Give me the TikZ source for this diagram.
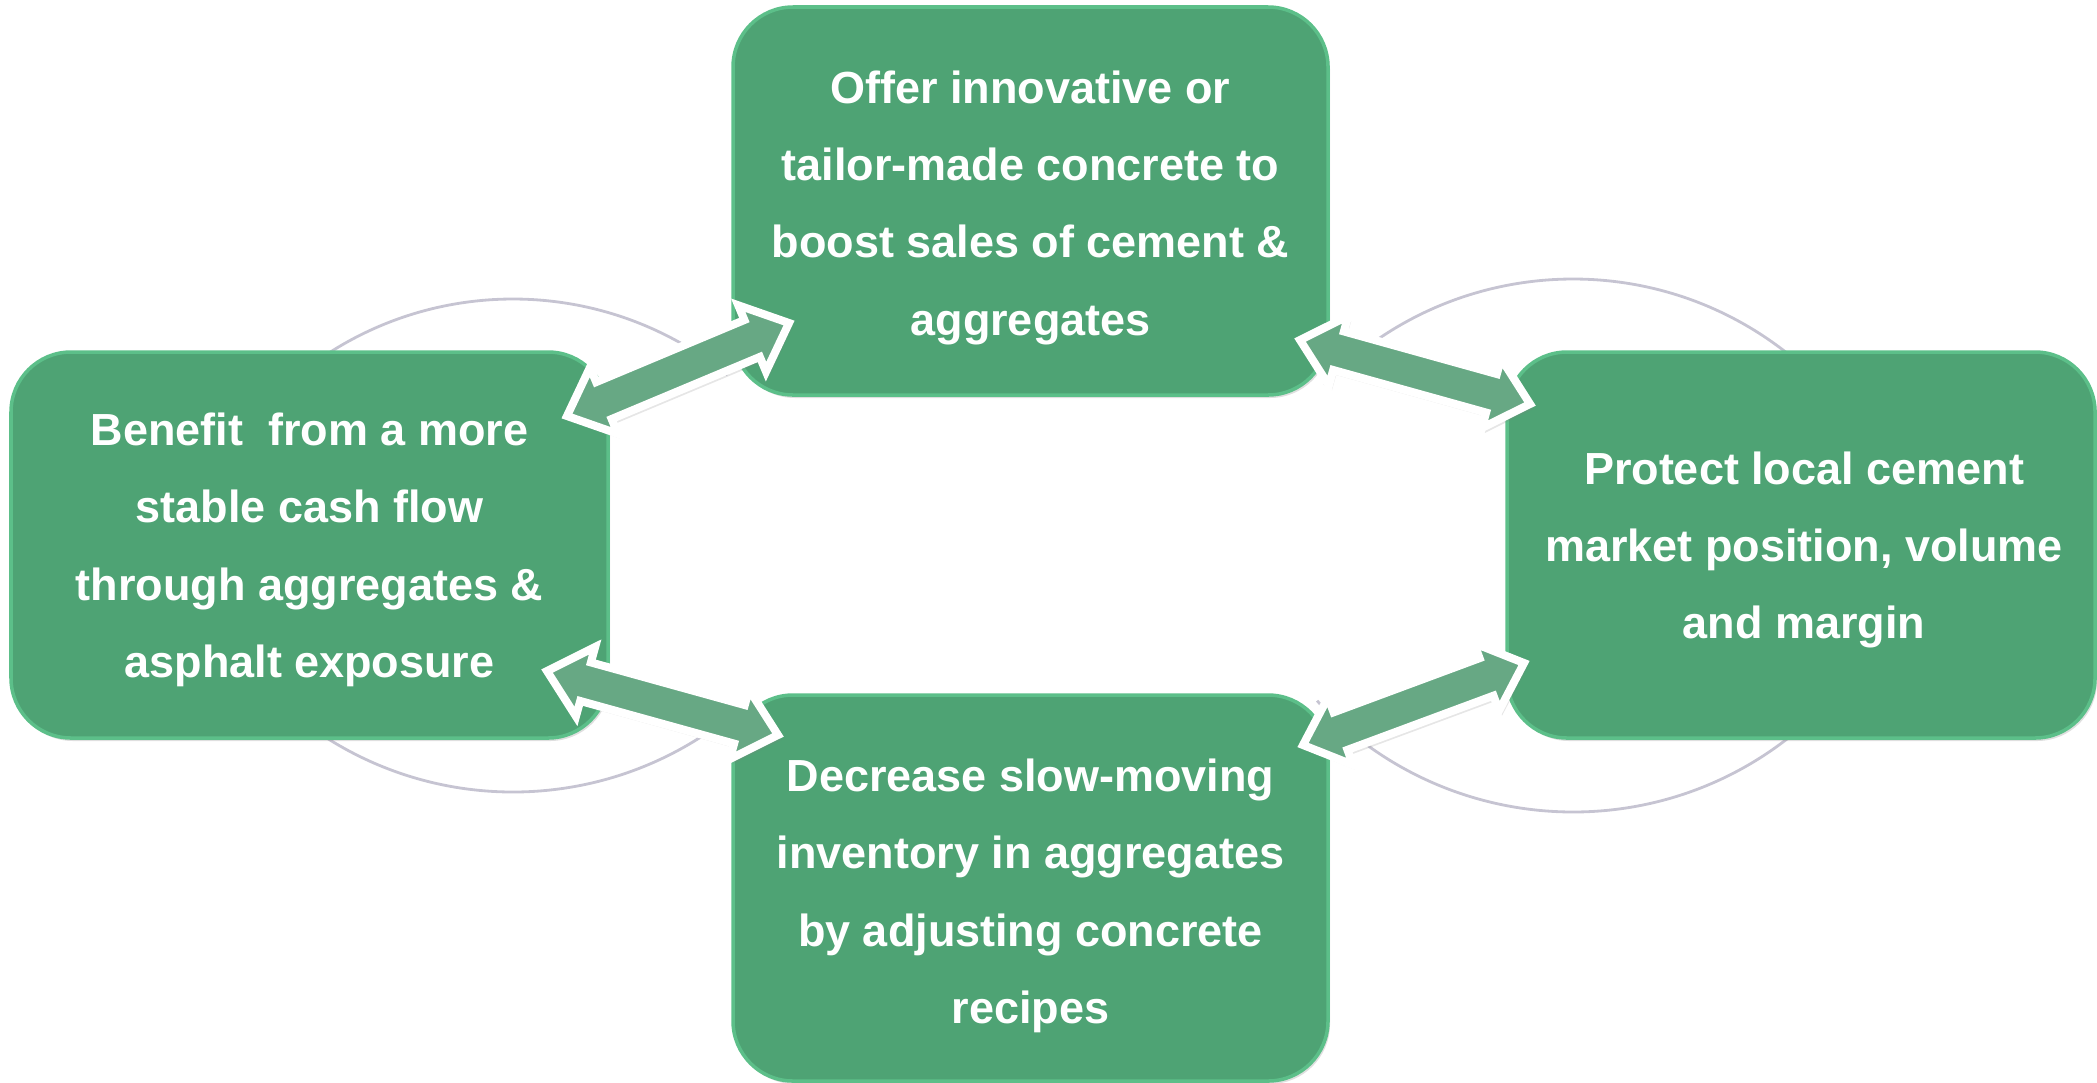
\documentclass[tikz,border=0pt]{standalone}
\usepackage{fontspec}
\setmainfont{Liberation Sans}
\usetikzlibrary{calc,shadows}
\definecolor{boxfill}{HTML}{4EA374}
\definecolor{boxedge}{HTML}{5CBF89}
\definecolor{arrfill}{HTML}{67A884}
\definecolor{arcgray}{HTML}{C6C4D2}
\tikzset{
  box/.style={rectangle, rounded corners=0.6cm, fill=boxfill, draw=boxedge, line width=1pt, inner sep=0pt,
    drop shadow={shadow xshift=0.02cm, shadow yshift=-0.03cm, opacity=0.25}},
  txt/.style={text=white, font=\bfseries\fontsize{12.8}{22}\selectfont, align=center, inner sep=0pt},
  ring/.style={draw=arcgray, line width=0.8pt},
  blockarrow/.style={fill=arrfill, draw=white, line width=0.08cm, line join=miter,
    drop shadow={shadow xshift=0.03cm, shadow yshift=-0.05cm, opacity=0.2}}
}
\newcommand\dblarrow[2]{%
  \path[blockarrow]
    (#1)
    -- ($($(#1)!0.40cm!(#2)$)!0.36cm!90:(#2)$)
    -- ($($(#1)!0.40cm!(#2)$)!0.2cm!90:(#2)$)
    -- ($($(#2)!0.40cm!(#1)$)!0.2cm!-90:(#1)$)
    -- ($($(#2)!0.40cm!(#1)$)!0.36cm!-90:(#1)$)
    -- (#2)
    -- ($($(#2)!0.40cm!(#1)$)!0.36cm!90:(#1)$)
    -- ($($(#2)!0.40cm!(#1)$)!0.2cm!90:(#1)$)
    -- ($($(#1)!0.40cm!(#2)$)!0.2cm!-90:(#2)$)
    -- ($($(#1)!0.40cm!(#2)$)!0.36cm!-90:(#2)$)
    -- cycle;}
\begin{document}
\begin{tikzpicture}
\useasboundingbox (0,0) rectangle (20.97,-10.82);
% background arcs
\draw[ring] ([shift={(126:3.41)}]5.13,-6.40) arc[start angle=126, end angle=51, radius=3.41];
\draw[ring] ([shift={(-126:3.48)}]5.13,-4.44) arc[start angle=-126, end angle=-50, radius=3.48];
\draw[ring] ([shift={(136:3.46)}]15.73,-6.25) arc[start angle=136, end angle=50, radius=3.46];
\draw[ring] ([shift={(-137:3.50)}]15.73,-4.62) arc[start angle=-137, end angle=-50, radius=3.50];
% boxes
\node[box, minimum width=5.95cm, minimum height=3.88cm] (top) at (10.305,-2.01) {};
\node[box, minimum width=5.97cm, minimum height=3.86cm] (left) at (3.095,-5.45) {};
\node[box, minimum width=5.88cm, minimum height=3.86cm] (right) at (18.01,-5.45) {};
\node[box, minimum width=5.95cm, minimum height=3.86cm] (bottom) at (10.305,-8.88) {};
% texts
\node[txt] (ttop) at ($(top.center)+(0,-0.065)$) {Offer innovative or\\tailor-made concrete to\\boost sales of cement \&\\aggregates};
\node[txt] (tleft) at ($(left.center)+(0,-0.05)$) {Benefit\ \ from a more\\stable cash flow\\through aggregates \&\\asphalt exposure};
\node[txt] (tright) at ($(right.center)+(0.03,-0.05)$) {Protect local cement\\market position, volume\\and margin};
\node[txt] (tbottom) at ($(bottom.center)+(0,-0.08)$) {Decrease slow-moving\\inventory in aggregates\\by adjusting concrete\\recipes};
% arrow end points
\coordinate (a1l) at (5.67,-4.16);
\coordinate (a1t) at (7.89,-3.23);
\coordinate (a2t) at (13.00,-3.40);
\coordinate (a2r) at (15.30,-4.04);
\coordinate (a3l) at (5.47,-6.71);
\coordinate (a3b) at (7.78,-7.35);
\coordinate (a4b) at (13.03,-7.45);
\coordinate (a4r) at (15.24,-6.63);
\dblarrow{a1l}{a1t}
\dblarrow{a2t}{a2r}
\dblarrow{a3l}{a3b}
\dblarrow{a4b}{a4r}
\end{tikzpicture}
\end{document}
